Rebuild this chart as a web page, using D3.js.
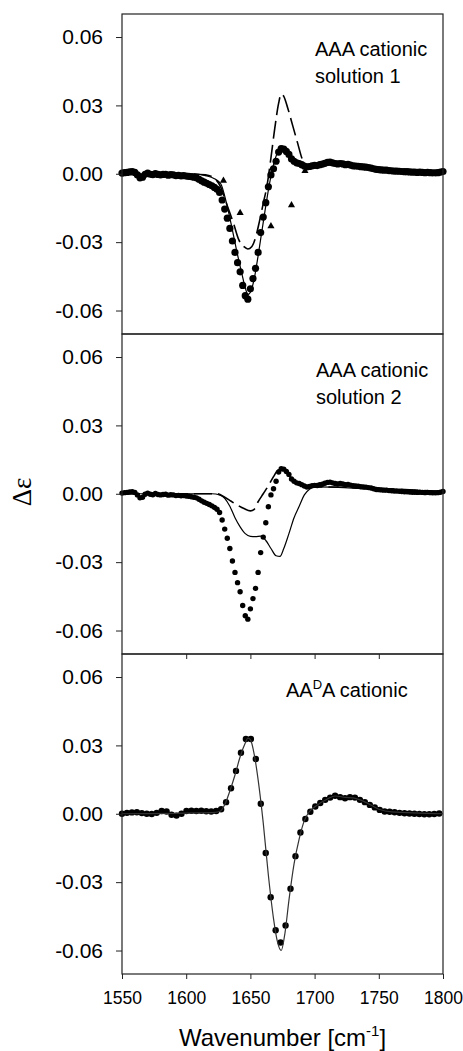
<!DOCTYPE html>
<html>
<head>
<meta charset="utf-8">
<script src="https://cdn.jsdelivr.net/npm/d3@7"></script>
<style>
  body { margin: 0; background: #fff; }
  svg text { font-family: "Liberation Sans", Arial, sans-serif; fill: #000; }
</style>
</head>
<body>
<svg id="chart" width="463" height="1051"></svg>
<script>
// ---- data -------------------------------------------------------------
const xTicks = [1550, 1600, 1650, 1700, 1750, 1800];
const yTicks = [0.06, 0.03, 0.00, -0.03, -0.06];

// AAA cationic, measured VCD spectrum (sampled from 1550 cm-1 every 2 cm-1)
const aaaStart = 1550, aaaStep = 2;
const aaaMeasured = [
   0.0003,  0.0005,  0.0006,  0.0008,  0.0009,  0.0006, -0.0005, -0.0018, -0.0015, -0.0002,
   0.0003, -0.0002, -0.0004,  0.0001, -0.0003, -0.0005, -0.0003, -0.0002, -0.0006, -0.0004,
  -0.0005, -0.0008, -0.0007, -0.0009, -0.0008, -0.0010, -0.0011, -0.0013, -0.0015, -0.0018,
  -0.0024, -0.0031, -0.0037, -0.0042, -0.0047, -0.0053, -0.0060, -0.0068, -0.0082, -0.0115,
  -0.0155, -0.0195, -0.0240, -0.0295, -0.0345, -0.0390, -0.0430, -0.0490, -0.0535, -0.0550,
  -0.0505, -0.0460, -0.0415, -0.0345, -0.0258, -0.0190, -0.0127, -0.0057, -0.0005,  0.0022,
   0.0055,  0.0095,  0.0110,  0.0108,  0.0098,  0.0085,  0.0065,  0.0055,  0.0048,  0.0045,
   0.0040,  0.0034,  0.0030,  0.0032,  0.0035,  0.0037,  0.0036,  0.0040,  0.0042,  0.0046,
   0.0050,  0.0051,  0.0048,  0.0045,  0.0043,  0.0045,  0.0043,  0.0040,  0.0041,  0.0038,
   0.0035,  0.0034,  0.0033,  0.0031,  0.0030,  0.0029,  0.0027,  0.0025,  0.0022,  0.0019,
   0.0018,  0.0017,  0.0016,  0.0016,  0.0014,  0.0013,  0.0012,  0.0012,  0.0011,  0.0010,
   0.0009,  0.0009,  0.0008,  0.0007,  0.0007,  0.0006,  0.0007,  0.0006,  0.0005,  0.0006,
   0.0005,  0.0004,  0.0004,  0.0005,  0.0007,  0.0010
];

// AA(D)A cationic, measured VCD spectrum (sampled from 1550 cm-1 every 3.86 cm-1)
const aadaStart = 1550, aadaStep = 3.86;
const aadaMeasured = [
   0.0000,  0.0004,  0.0006,  0.0007,  0.0003,  0.0000, -0.0001,  0.0004,  0.0012,  0.0010,
  -0.0004, -0.0008,  0.0000,  0.0012,  0.0013,  0.0012,  0.0013,  0.0011,  0.0010,  0.0012,
   0.0020,  0.0051,  0.0112,  0.0188,  0.0268,  0.0328,  0.0328,  0.0240,  0.0044, -0.0172,
  -0.0366, -0.0511, -0.0565, -0.0490, -0.0329, -0.0186, -0.0082, -0.0023,  0.0009,  0.0032,
   0.0047,  0.0061,  0.0071,  0.0079,  0.0073,  0.0068,  0.0073,  0.0071,  0.0061,  0.0051,
   0.0039,  0.0028,  0.0017,  0.0010,  0.0009,  0.0007,  0.0004,  0.0002,  0.0001,  0.0000,
  -0.0001, -0.0002, -0.0002, -0.0001,  0.0001
];

// Solution 1: calculated spectra [wavenumber, delta epsilon]
const sol1Solid = [
  [1550, 0], [1590, 0], [1605, 0], [1615, -0.0008], [1622, -0.0022], [1627, -0.0045],
  [1631, -0.012], [1635, -0.022], [1639, -0.033], [1643, -0.043], [1646, -0.050],
  [1648, -0.053], [1650, -0.052], [1653, -0.046], [1656, -0.036], [1659, -0.025],
  [1662, -0.014], [1665, -0.004], [1668, 0.004], [1671, 0.009], [1674, 0.0105],
  [1678, 0.0095], [1683, 0.0065], [1688, 0.0045], [1695, 0.003], [1710, 0.004],
  [1730, 0.003], [1760, 0.0015], [1800, 0.001]
];
const sol1Dashed = [
  [1550, 0], [1600, 0], [1615, -0.0005], [1622, -0.002], [1627, -0.006], [1632, -0.014],
  [1637, -0.022], [1641, -0.029], [1645, -0.032], [1648, -0.033], [1651, -0.032],
  [1654, -0.028], [1657, -0.021], [1660, -0.013], [1663, -0.005], [1666, 0.007],
  [1669, 0.020], [1672, 0.031], [1674, 0.035], [1676, 0.034], [1679, 0.029],
  [1683, 0.021], [1687, 0.013], [1690, 0.007], [1693, 0.0035], [1696, 0.003]
];
const sol1Triangles = [
  [1629, -0.003], [1642, -0.0172], [1666, -0.023], [1682, -0.0138], [1692.5, 0.0012]
];

// Solution 2: calculated spectra
const sol2Solid = [
  [1550, 0], [1620, 0], [1626, -0.0005], [1630, -0.002], [1634, -0.0055], [1638, -0.0105],
  [1642, -0.0145], [1646, -0.0175], [1650, -0.0187], [1654, -0.0188], [1658, -0.0186],
  [1662, -0.0205], [1666, -0.024], [1670, -0.0272], [1673, -0.0275], [1676, -0.024],
  [1680, -0.0175], [1684, -0.0105], [1688, -0.0055], [1692, -0.0005], [1696, 0.002],
  [1700, 0.003], [1750, 0.002], [1800, 0.001]
];
const sol2Dashed = [
  [1550, 0], [1624, 0], [1630, -0.0015], [1635, -0.0033], [1640, -0.005], [1645, -0.0065],
  [1650, -0.0075], [1653, -0.0068], [1656, -0.0035], [1660, 0.0], [1664, 0.0035],
  [1668, 0.0075], [1672, 0.0105], [1676, 0.0105], [1680, 0.008], [1686, 0.005],
  [1692, 0.003], [1700, 0.003], [1800, 0.001]
];

// AA(D)A: calculated spectrum
const aadaFit = [
  [1550, 0], [1620, 0.0005], [1626, 0.001], [1630, 0.004], [1634, 0.010], [1638, 0.017],
  [1642, 0.025], [1646, 0.031], [1648, 0.0332], [1650, 0.0325], [1653, 0.026],
  [1656, 0.015], [1660, -0.004], [1664, -0.027], [1668, -0.046], [1671, -0.056],
  [1674, -0.060], [1677, -0.052], [1680, -0.038], [1684, -0.022], [1688, -0.011],
  [1692, -0.003], [1696, 0.001], [1700, 0.003], [1710, 0.0065], [1716, 0.0078],
  [1724, 0.0072], [1730, 0.007], [1740, 0.005], [1750, 0.002], [1760, 0.0008], [1800, 0]
];

const aaaPoints = aaaMeasured.map((v, i) => [aaaStart + i * aaaStep, v]);
const aadaPoints = aadaMeasured.map((v, i) => [aadaStart + i * aadaStep, v]);

// ---- layout -----------------------------------------------------------
const svg = d3.select("#chart");
const left = 122, right = 443, panelH = 320;
const x = d3.scaleLinear().domain([1550, 1800]).range([left, right]);
const yDomain = [-0.0703, 0.0701];

const panels = [
  { top: 14,  dots: aaaPoints,  r: 3.6, solid: sol1Solid, dashed: sol1Dashed, tri: sol1Triangles,
    label: ["AAA cationic", "solution 1"], labelX: 315, labelY: 56 },
  { top: 334, dots: aaaPoints,  r: 2.7, solid: sol2Solid, dashed: sol2Dashed, tri: [],
    label: ["AAA cationic", "solution 2"], labelX: 316, labelY: 377 },
  { top: 654, dots: aadaPoints, r: 3.2, solid: aadaFit, dashed: null, tri: [],
    label: null, labelX: 286, labelY: 697, fitColor: "#333" }
];

const fmt = d => d.toFixed(2);

panels.forEach((p, idx) => {
  const y = d3.scaleLinear().domain(yDomain).range([p.top + panelH, p.top]);
  const g = svg.append("g");
  const line = d3.line().x(d => x(d[0])).y(d => y(d[1])).curve(d3.curveMonotoneX);

  // measured points
  g.append("g").selectAll("circle").data(p.dots).join("circle")
    .attr("cx", d => x(d[0])).attr("cy", d => y(d[1])).attr("r", p.r).attr("fill", "#000");

  // calculated spectra
  g.append("path").datum(p.solid).attr("d", line)
    .attr("fill", "none").attr("stroke", p.fitColor || "#000").attr("stroke-width", 1.2);
  if (p.dashed) {
    g.append("path").datum(p.dashed).attr("d", line)
      .attr("fill", "none").attr("stroke", "#000").attr("stroke-width", 1.6)
      .attr("stroke-dasharray", "18,6");
  }
  g.append("g").selectAll("path").data(p.tri).join("path")
    .attr("d", d3.symbol(d3.symbolTriangle).size(22))
    .attr("transform", d => `translate(${x(d[0])},${y(d[1])})`)
    .attr("fill", "#000");

  // frame
  g.append("rect").attr("x", left).attr("y", p.top).attr("width", right - left).attr("height", panelH)
    .attr("fill", "none").attr("stroke", "#222").attr("stroke-width", 1.2);

  // y axis
  const ya = g.append("g").attr("transform", `translate(${left},0)`)
    .call(d3.axisLeft(y).tickValues(yTicks).tickSize(6).tickPadding(13).tickFormat(fmt));
  ya.select(".domain").remove();
  ya.attr("font-size", 21).attr("font-family", null);
  ya.selectAll("line").attr("stroke", "#222");

  // panel label
  if (p.label) {
    p.label.forEach((t, k) => {
      g.append("text").attr("x", p.labelX).attr("y", p.labelY + k * 26.5)
        .attr("font-size", 20).text(t);
    });
  } else {
    const t = g.append("text").attr("x", p.labelX).attr("y", p.labelY).attr("font-size", 20);
    t.append("tspan").text("AA");
    t.append("tspan").attr("font-size", 13).attr("dy", -8).text("D");
    t.append("tspan").attr("dy", 8).text("A cationic");
  }

  if (idx === 2) {
    // inward ticks along the top edge of the lower panel
    const ta = g.append("g").attr("transform", `translate(0,${p.top})`)
      .call(d3.axisTop(x).tickValues([1600, 1650, 1700, 1750]).tickSize(-5).tickFormat(""));
    ta.select(".domain").remove();
    ta.selectAll("line").attr("stroke", "#222");

    const xa = g.append("g").attr("transform", `translate(0,${p.top + panelH})`)
      .call(d3.axisBottom(x).tickValues(xTicks).tickSize(5).tickPadding(13).tickFormat(d3.format("d")));
    xa.select(".domain").remove();
    xa.attr("font-size", 17.5).attr("font-family", null);
    xa.selectAll("line").attr("stroke", "#222");
  }
});

// axis titles
const xt = svg.append("text").attr("x", (left + right) / 2).attr("y", 1046)
  .attr("text-anchor", "middle").attr("font-size", 24);
xt.append("tspan").text("Wavenumber [cm");
xt.append("tspan").attr("font-size", 15).attr("dy", -10).text("-1");
xt.append("tspan").attr("dy", 10).text("]");

svg.append("text")
  .attr("transform", "translate(31,492) rotate(-90)")
  .attr("text-anchor", "middle")
  .style("font-family", "'Liberation Serif', 'Times New Roman', serif")
  .attr("font-size", 27)
  .text("Δε");
</script>
</body>
</html>
